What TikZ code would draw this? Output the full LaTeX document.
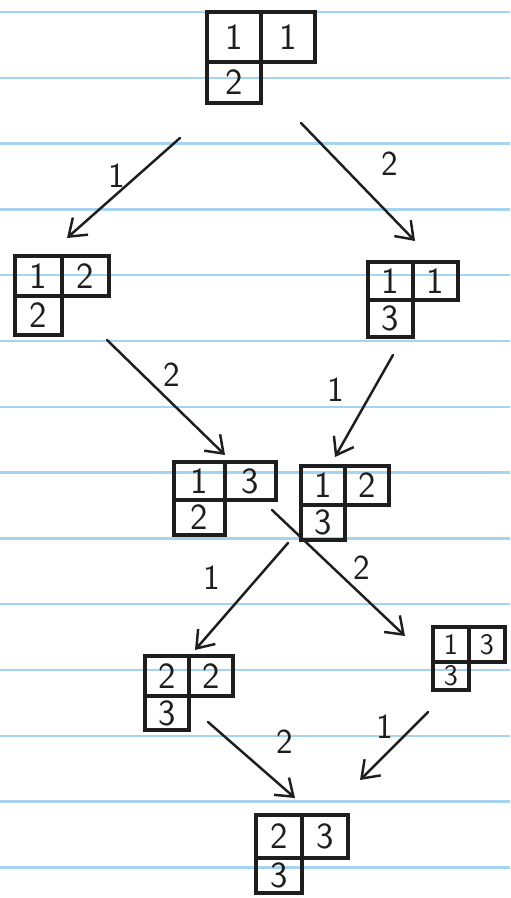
\documentclass[tikz,border=0pt]{standalone}
\usetikzlibrary{arrows.meta}
\definecolor{ruleblue}{RGB}{165,212,240}
\definecolor{ink}{RGB}{30,30,30}
\tikzset{
  cell/.style={draw=ink, line width=2pt, inner sep=0pt, outer sep=0pt,
    font=\sffamily\fontsize{21}{24}\selectfont, text=ink},
  arr/.style={draw=ink, line width=1.4pt, line cap=round,
    -{Straight Barb[length=9pt,width=13pt,line width=1.4pt]}},
  lab/.style={font=\sffamily\fontsize{20}{24}\selectfont, text=ink},
  rule/.style={draw=ruleblue, line width=1.3pt}
}
% name, x, y, w, h1, h2, t1, t2, t3
\newcommand{\tabl}[9]{%
  \node[cell, minimum width={#4*0.02cm}, minimum height={#5*0.02cm}, anchor=north west] (#1a) at (#2,#3) {#7};
  \node[cell, minimum width={#4*0.02cm}, minimum height={#5*0.02cm}, anchor=north west] (#1b) at (#1a.north east) {#8};
  \node[cell, minimum width={#4*0.02cm}, minimum height={#6*0.02cm}, anchor=north west] (#1c) at (#1a.south west) {#9};
}
\begin{document}
\begin{tikzpicture}[x=0.02cm,y=-0.02cm]
\useasboundingbox (0,0) rectangle (510,898);
\fill[white] (0,0) rectangle (510,898);
% ruled lines
\foreach \k in {0,...,13} {
  \draw[rule] (0,{12+65.8*\k}) -- (510,{12+65.8*\k});
}
% tableaux
\tabl{t}{207}{12}{54}{50}{41}{1}{1}{2}
\tabl{l}{15}{256}{47}{40}{39}{1}{2}{2}
\tabl{r}{368}{262}{45}{38}{37}{1}{1}{3}
\tabl{ml}{174}{462}{51}{38}{35}{1}{3}{2}
\tabl{mr}{301}{466}{44}{39}{35}{1}{2}{3}
\tabl{ll}{145}{656}{44}{40}{34}{2}{2}{3}
\begin{scope}[cell/.append style={font=\sffamily\fontsize{17}{20}\selectfont}]
\tabl{lr}{433}{627}{36}{35}{28}{1}{3}{3}
\end{scope}
\tabl{b}{256}{815}{46}{43}{35}{2}{3}{3}
% arrow end points
\coordinate (a1s) at (180,138); \coordinate (a1e) at (67,238);
\coordinate (a2s) at (301,123); \coordinate (a2e) at (415,241);
\coordinate (a3s) at (107,340); \coordinate (a3e) at (225,455);
\coordinate (a4s) at (393,355); \coordinate (a4e) at (335,457);
\coordinate (a5s) at (288,543); \coordinate (a5e) at (195,650);
\coordinate (a6s) at (272,510); \coordinate (a6e) at (405,636);
\coordinate (a7s) at (208,722); \coordinate (a7e) at (295,798);
\coordinate (a8s) at (428,712); \coordinate (a8e) at (360,780);
\draw[arr] (a1s) -- (a1e);
\draw[arr] (a2s) -- (a2e);
\draw[arr] (a3s) -- (a3e);
\draw[arr] (a4s) -- (a4e);
\draw[arr] (a5s) -- (a5e);
\draw[arr] (a6s) -- (a6e);
\draw[arr] (a7s) -- (a7e);
\draw[arr] (a8s) -- (a8e);
% labels
\node[lab] (l1) at (117,176) {1};
\node[lab] (l2) at (390,164) {2};
\node[lab] (l3) at (172,375) {2};
\node[lab] (l4) at (336,390) {1};
\node[lab] (l5) at (212,578) {1};
\node[lab] (l6) at (362,568) {2};
\node[lab] (l7) at (285,742) {2};
\node[lab] (l8) at (385,727) {1};
\end{tikzpicture}
\end{document}
